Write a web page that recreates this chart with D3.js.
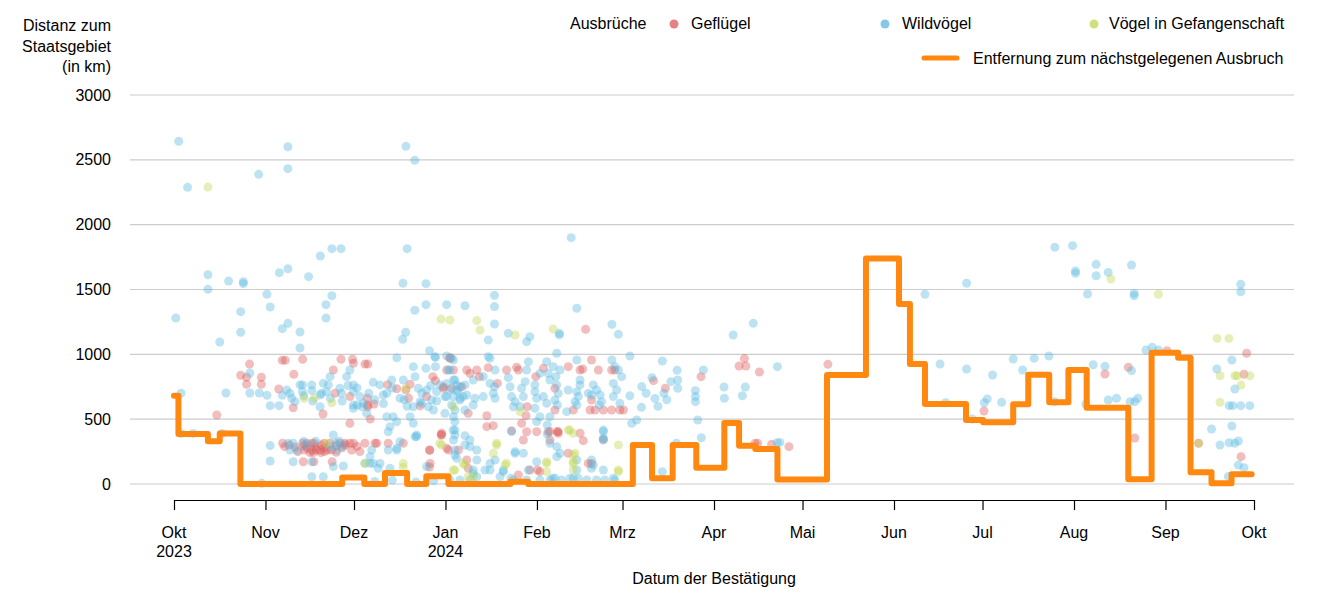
<!DOCTYPE html>
<html><head><meta charset="utf-8">
<script src="https://cdn.jsdelivr.net/npm/d3@7"></script>
<style>
body{margin:0;background:#fff;font-family:"Liberation Sans",Arial,sans-serif;}
svg text{font-family:"Liberation Sans",Arial,sans-serif;fill:#000;}
</style></head>
<body><svg id="chart" width="1333" height="600"></svg>
<script>
// ---- data (day offset from 2023-10-01, distance in km) ----
const startDate = new Date(2023, 9, 1);
const endDate = new Date(2024, 9, 1);
const monthLabels = ["Okt","Nov","Dez","Jan","Feb","Mrz","Apr","Mai","Jun","Jul","Aug","Sep","Okt"];
const yearLabels = {0:"2023", 3:"2024"};
const yTicks = [0,500,1000,1500,2000,2500,3000];

const stepDays = [0,1.5,11.5,15.5,22.5,57,64.5,71.5,79,85.5,93,114,120,155.5,162,169,177,186.5,191.5,197,204.5,221.3,234.5,245.7,249.4,254.5,268.4,274.2,284.4,289.5,296.6,303.1,309.3,323.4,331.3,340.3,344.5,351.6,358.4,365.2];
const stepKm   = [680,385,330,390,0,50,0,85,0,60,0,18,0,300,45,300,125,470,295,270,35,840,1740,1388,925,617,494,476,615,843,630,879,589,36,1013,974,90,5,75,75];

const wild = [
[1.6,2643],[4.6,2288],[0.6,1280],[2.4,700],[2.4,390],[6.5,390],[16.4,390],[11.5,1614],[11.5,1501],[15.5,1095],[18.5,1565],[17.6,702],[22.6,1329],[22.6,1170],[23.5,1545],[23.5,1560],[28.7,2388],[25.7,856],[25.7,702],[28.9,702],[29.7,5],
[31.5,1463],[32.6,1365],[35.7,1630],[38.6,1660],[38.6,2601],[38.6,2432],[36.7,1198],[38.6,1239],[42.7,1172],[42.7,1049],[31.5,684],[32.6,604],[35.6,604],[36.7,684],[38.2,725],[39.3,699],[39.9,661],[41,635],[32.6,296],[32.6,177],[38.7,314],[40.4,314],[39.3,262],[41.6,262],[40.4,172],[46.7,172],[46.7,56],[50.6,56],[45.6,1599],[49.6,1758],[53.5,1815],[56.6,1815],[51.5,1383],[53.5,1452],[51.5,1280],[42.7,764],[43.6,764],[46.7,764],[43.5,712],[46.7,720],[49.5,596],[50.6,776],[51.7,712],[49.5,686],[52.3,764],[52.9,828],[56.2,738],[56.8,699],[58.5,828],[59.6,879],[54.9,314],[55.1,262],[54,134],[54,378],[57.4,139],
[44,330],[48,330],[56,330],[57,290],[45,300],[53,290],[44,680],[47,640],[50,700],[53,660],[57,640],[59,760],
[60.8,764],[60.8,609],[60.8,584],[60.8,712],[62.1,609],[63,674],[63.8,596],[64.2,622],[67.5,784],[69.8,764],[70.9,686],[72.1,699],[73.8,802],[74.3,519],[72.1,519],[73.2,442],[75.5,481],[76.6,661],[77.7,802],[80,519],[81.1,468],[82.2,365],[81.1,905],[81.7,828],[81.1,596],[82.8,738],[83.9,622],[83.4,635],[85.4,892],[85.6,725],[86.2,596],[87.3,648],[87.9,571],[88.4,982],[88.6,905],[89,712],[77.6,1548],[85.4,1545],[78.6,2604],[81.6,2496],[79,1815],[81.6,1340],[78.5,1170],[77.5,1116],[85.4,1383],[86.6,1028],[75.5,974],[88.6,977],[67,262],[72.6,262],[75.5,262],[66.4,211],[67.5,159],[69.8,159],[64.7,160],[66.4,160],[69.2,121],[73.2,121],[85.6,134],[72.6,403],[75.5,275],[76.6,326],[82.2,378],[81.7,365],[65.3,545],
[62,740],[66,700],[68,650],[71,620],[74,740],[78,650],[79,600],[84,700],[87,760],[89,640],[68,20],[74,30],[82,15],[88,25],
[90.1,764],[92.4,674],[94.1,609],[94.7,519],[96.9,648],[98.6,571],[93.5,879],[94.7,956],[95.2,802],[95.8,725],[96.9,750],[98,674],[92.4,1383],[98.6,1375],[92.4,987],[94.1,969],[93,879],[94.7,802],[92.4,776],[95.8,764],[93.5,725],[96.3,712],[91.8,674],[94.7,674],[96.9,661],[95.2,571],[95.2,481],[98.6,764],[101.4,802],[104.8,828],[107.1,776],[108.6,750],[99.2,686],[102,661],[104.8,674],[108.2,699],[108.8,661],[101.4,609],[106.5,982],[107.1,969],[108.8,879],[91.8,545],[94.6,416],[95.2,378],[95.2,224],[95.8,198],[98.6,301],[100.3,288],[102.6,262],[102.6,185],[95.2,416],[98.6,373],[94.7,339],[100.3,339],[95.2,262],[108.6,1455],[108.6,1368],[108.6,1234],[106.5,1110],[113.3,1162],[119.5,1098],[120.6,1136],[113.9,750],[114.4,674],[115.6,635],[117.8,738],[118.4,674],[119,789],[119.5,879],[120.1,943],[115,596],[117.3,596],[113.3,820],[114.4,404],[115.6,249],[118.4,237],[111.6,95],[101.4,82],[107.1,159],[108.8,185],[120.1,108],[101.4,108],[102.6,56],[105.4,108],[107.1,108],[111.6,108],[114.2,44],[110.5,56],[93.5,31],[96.9,31],[100.3,31],[115,31],[119.5,31],[115.6,237],
[122.3,764],[122.3,712],[122.9,661],[124,853],[126.3,943],[126.8,853],[127.4,802],[125.2,674],[126.3,622],[122.3,584],[124,519],[127.4,519],[129.7,1008],[128.5,905],[129.4,828],[129.7,764],[130.2,699],[129.1,648],[129.9,609],[130.8,879],[130.6,1162],[130.6,1150],[136.5,1355],[134.6,1900],[136.5,956],[137.6,802],[137.6,764],[136.5,712],[137,674],[135.9,635],[136.5,609],[140.4,699],[141.5,686],[142.1,764],[143.2,725],[144.4,686],[144.9,635],[144.1,609],[133.6,725],[133.1,558],[148.4,1231],[150.6,1154],[148.4,956],[149.4,905],[150.6,879],[148.9,776],[150,725],[148.9,674],[151.1,622],[151.7,828],[122.9,481],[127.4,314],[136.5,185],[145.5,404],[145.5,339],[141.5,185],[145.5,108],[129.7,288],[126.5,455],[122.9,172],[126.5,386],[129.7,211],[130.8,237],[136.5,108],[141.5,121],[142.1,147],[145.5,416],[145.5,352],[128.3,44],[129.1,44],[134.2,44],[135.3,44],[137,44],[148.9,44],[124,31],[127.4,31],[131.4,31],[139.9,31],[143.2,31],[146,31],[149.4,31],
[154.5,987],[155.1,468],[156.8,494],[158.5,751],[158.4,591],[154.5,681],[160,700],[162,820],[163,660],[164,600],[165.5,949],[165.5,95],[170.5,877],[179.4,879],[170.7,802],[170.7,738],[168.4,789],[166,700],[167,650],[176.7,720],[176.7,674],[176.7,635],[177.5,494],[178.7,357],[170.3,314],[186.4,748],[186.5,661],[193.6,748],[192.6,681],[189.5,1149],[196.3,1239],[204.5,905],[204.4,318],[205.3,321],
[259.6,925],[268.6,1548],[254.5,1463],[268.6,887],[277.4,841],[284.4,964],[287.6,879],[291.5,969],[296.5,987],[298.5,1825],[304.5,1838],[305.5,1643],[305.5,1625],[312.5,1694],[312.5,1606],[316.6,1632],[324.5,1689],[309.6,1465],[325.4,1470],[325.4,1452],[311.5,920],[315.5,908],[324.5,874],[329.4,1033],[331.5,1054],[333.6,1033],[261.5,627],[274.6,627],[275.6,656],[280.5,630],[298.5,635],[309,615],[316.6,648],[319.4,661],[324,635],[325.6,635],[326.6,661],[270.5,501],[361.5,1540],[361.5,1483],[358.5,956],[353.4,887],[359.5,733],[357.6,604],[358.8,604],[361.5,604],[364.6,604],[351.6,424],[354.5,301],[357.6,318],[359.5,314],[360.7,332],[358.5,447],[360.7,146],[362.6,126],[357.3,57]
];

const poultry = [
[14.5,532],[22.6,838],[24.6,823],[24.6,769],[29.6,823],[29.6,769],[25.6,925],[36.7,954],[37.7,954],[43.6,962],[40.6,846],[35.5,733],[40.4,588],[50.5,540],[56.6,962],[60.5,962],[64.7,925],[65.7,925],[59.6,468],[66.5,501],[65.6,609],[67.8,617],[54.6,699],[59.6,674],[65.5,661],[65.7,596],[72.4,766],[75.5,735],[78.6,725],[79.5,661],[80,769],[83.4,602],[85.6,674],[87.7,828],[88.6,797],[91.3,738],[93.5,974],[99.2,879],[54,879],[60.8,931],
[36.8,314],[43.6,314],[45,314],[46.7,314],[47.6,314],[50.8,314],[52.9,314],[56.2,314],[57.9,314],[59.6,314],[60.8,314],[64.7,314],[68.1,314],[68.7,314],[72.6,314],[77.7,314],[44.2,262],[46.7,262],[48.3,262],[49.5,262],[52,262],[53.4,262],[60.2,262],[46.1,242],[47.2,242],[49.8,242],[43.8,172],[47.4,172],[53.6,172],[86.8,159],[86.7,262],[90.7,378],[90.5,380],[86.6,260],[86.6,131],[37.5,288],
[39,300],[41,285],[44,295],[45,280],[48,285],[50,300],[51,280],[55,295],[57,280],[58,300],[42,250],[51,250],[55,245],[62,290],[63,250],
[93.5,969],[94.7,879],[92.4,879],[100.3,853],[103.5,828],[102.6,879],[106.5,897],[109.6,776],[112.7,879],[116.1,900],[116.7,879],[122.6,828],[125.2,892],[94.1,738],[91.3,750],[97.5,750],[99.7,545],[106,527],[119.7,596],[119.3,527],[129.1,738],[141.5,648],[133.6,905],[137.6,879],[138.5,887],[143.8,879],[141.5,956],[148.3,879],[149.4,879],[139.5,1193],[129.1,571],[135.3,571],[141,571],[142.7,571],[145.5,571],[148.3,571],[151.1,571],[152.3,571],[90.7,391],[93,262],[96.4,262],[108.2,450],[114.4,411],[119.5,403],[118.4,339],[122.9,403],[126.8,403],[130.2,403],[127.4,339],[133.6,237],[137.6,391],[145.5,344],[99.7,121],[120.6,108],[123.2,108],[116.7,69],[92.4,275],[99.2,185],[106,442],[117.8,468],[127.4,404],[129.9,404],[130.2,391],[138.7,334],[124,95],[141.5,159],[140.4,159],
[162.5,797],[166.5,738],[178.6,828],[193.3,967],[191.5,910],[193.8,910],[198.4,864],[196.9,314],[197.8,314],[202.5,306],[208.4,288],[221.6,923],[274.5,563],[315.5,848],[323.4,900],[336.5,1028],[325.6,355],[347.2,314],[361.6,211],[363.5,1008],[362.6,846]
];

const captive = [
[11.5,2290],[44.1,661],[47.6,661],[53.5,627],[51.7,314],[78.6,738],[94.7,596],[64.7,159],[77.7,159],[77.7,129],[90.5,1272],[93.5,1265],[102.6,1260],[103.7,1188],[115.6,1149],[128.5,1195],[90.1,314],[109.4,314],[108.2,237],[98,160],[95.2,108],[99.7,56],[101.4,56],[112.7,160],[133.6,416],[135.3,391],[135.9,237],[126.3,172],[135.3,172],[126.3,95],[150.6,301],[150.6,108],[135.3,108],[90.7,301],[109.3,301],[134.2,416],[135.3,224],[126.3,159],[135.3,159],[150.6,95],[112.2,147],[98.6,147],[117.3,558],[94.6,108],[317.5,1581],[333.6,1463],[353.5,1123],[357.5,1123],[354.5,835],[359.5,835],[360.3,835],[364.6,835],[361.6,763],[354.5,630],[347.3,314]
];

// ---- drawing ----
const svg = d3.select("#chart");
const dayToDate = d => new Date(startDate.getTime() + d * 864e5);
const x = d3.scaleTime().domain([startDate, endDate]).range([174, 1254]);
const y = d3.scaleLinear().domain([0, 3000]).range([484, 95]);

const colors = {poultry:"#dc5a5a", wild:"#5bb8e0", captive:"#c0d650"};

// gridlines
svg.append("g").selectAll("line").data(yTicks).join("line")
  .attr("x1", 130).attr("x2", 1294)
  .attr("y1", d => y(d)).attr("y2", d => y(d))
  .attr("stroke", "#cccccc").attr("stroke-width", 1.2);

svg.append("g").selectAll("text").data(yTicks).join("text")
  .attr("x", 111).attr("y", d => y(d)).attr("dy", "0.35em")
  .attr("text-anchor", "end").attr("font-size", 16).text(d => d);

// y title
svg.append("g").selectAll("text").data(["Distanz zum","Staatsgebiet","(in km)"]).join("text")
  .attr("x", 111).attr("y", (d,i) => 31 + i*20.5)
  .attr("text-anchor", "end").attr("font-size", 16).text(d => d);

// points
function drawPts(data, col) {
  svg.append("g").selectAll("circle").data(data).join("circle")
    .attr("cx", d => x(dayToDate(d[0]))).attr("cy", d => y(d[1]))
    .attr("r", 4.5).attr("fill", col).attr("fill-opacity", 0.4);
}
drawPts(poultry, colors.poultry);
drawPts(wild, colors.wild);
drawPts(captive, colors.captive);

// step line
const stepData = stepDays.map((d,i) => [d, stepKm[i]]);
const line = d3.line().x(d => x(dayToDate(d[0]))).y(d => y(d[1])).curve(d3.curveStepAfter);
svg.append("path").datum(stepData).attr("d", line)
  .attr("fill","none").attr("stroke","#ff8811").attr("stroke-width",6)
  .attr("stroke-linejoin","round").attr("stroke-linecap","round");

// x axis
const months = d3.range(13).map(i => new Date(2023, 9 + i, 1));
const xAxis = d3.axisBottom(x).tickValues(months).tickSize(10).tickSizeOuter(0).tickFormat("");
const ax = svg.append("g").attr("transform","translate(0,500)").call(xAxis);
ax.select(".domain").attr("stroke","#000").attr("stroke-width",1.2);
ax.selectAll(".tick line").attr("stroke","#000").attr("stroke-width",1.2);
const lbl = svg.append("g").selectAll("text").data(months).join("text")
  .attr("x", d => x(d)).attr("y", 538).attr("text-anchor","middle").attr("font-size",16);
lbl.append("tspan").text((d,i) => monthLabels[i]);
lbl.filter((d,i) => yearLabels[i]).append("tspan").attr("x", d => x(d)).attr("dy", 19)
  .text((d,i) => yearLabels[months.indexOf(d)]);

svg.append("text").attr("x", 714).attr("y", 584).attr("text-anchor","middle")
  .attr("font-size",16).text("Datum der Bestätigung");

// legend
svg.append("text").attr("x",570).attr("y",29).attr("font-size",16).text("Ausbrüche");
const legItems = [
  {label:"Geflügel", col:colors.poultry, cx:674, tx:691},
  {label:"Wildvögel", col:colors.wild, cx:885, tx:902},
  {label:"Vögel in Gefangenschaft", col:colors.captive, cx:1094, tx:1109}
];
const lg = svg.append("g").selectAll("g").data(legItems).join("g");
lg.append("circle").attr("cx", d => d.cx).attr("cy", 24).attr("r", 4.5)
  .attr("fill", d => d.col).attr("fill-opacity", 0.75);
lg.append("text").attr("x", d => d.tx).attr("y", 29).attr("font-size",16).text(d => d.label);
svg.append("line").attr("x1",924).attr("x2",957).attr("y1",58).attr("y2",58)
  .attr("stroke","#ff8811").attr("stroke-width",5).attr("stroke-linecap","round");
svg.append("text").attr("x",973).attr("y",64).attr("font-size",16).text("Entfernung zum nächstgelegenen Ausbruch");
</script></body></html>
